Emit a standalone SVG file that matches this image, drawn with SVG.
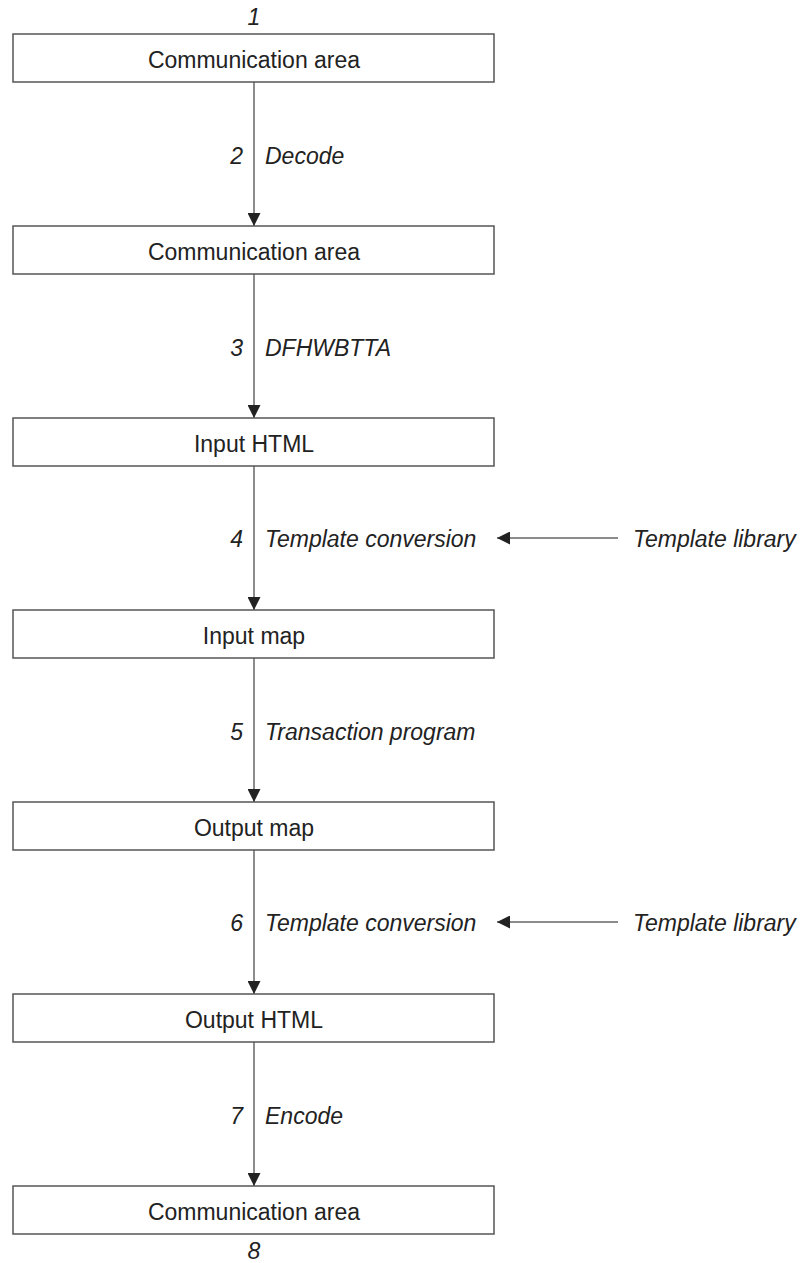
<svg xmlns="http://www.w3.org/2000/svg" width="805" height="1263" viewBox="0 0 805 1263">
<style>
.box{fill:#fff;stroke:#555;stroke-width:1.5}
.t{font-family:"Liberation Sans",Arial,sans-serif;font-size:23px;fill:#222;text-anchor:middle}
.i{font-family:"Liberation Sans",Arial,sans-serif;font-size:23px;fill:#222;font-style:italic}
.n{text-anchor:end}
.c{text-anchor:middle}
.ln{stroke:#666;stroke-width:1.5;fill:none}
</style>
<defs>
<marker id="ah" markerWidth="13" markerHeight="13" refX="13" refY="6.5" orient="auto" markerUnits="userSpaceOnUse">
<path d="M0,0 L13,6.5 L0,13 Z" fill="#222"/>
</marker>
</defs>
<rect width="805" height="1263" fill="#fff"/>
<g id="connectors">
<line class="ln" x1="254" y1="82" x2="254" y2="226" marker-end="url(#ah)"/>
<line class="ln" x1="254" y1="274" x2="254" y2="418" marker-end="url(#ah)"/>
<line class="ln" x1="254" y1="466" x2="254" y2="610" marker-end="url(#ah)"/>
<line class="ln" x1="254" y1="658" x2="254" y2="802" marker-end="url(#ah)"/>
<line class="ln" x1="254" y1="850" x2="254" y2="994" marker-end="url(#ah)"/>
<line class="ln" x1="254" y1="1042" x2="254" y2="1186" marker-end="url(#ah)"/>
<line class="ln" x1="618" y1="538" x2="497" y2="538" marker-end="url(#ah)"/>
<line class="ln" x1="618" y1="922" x2="497" y2="922" marker-end="url(#ah)"/>
<text class="i n" x="243" y="164">2</text><text class="i" x="265" y="164">Decode</text>
<text class="i n" x="243" y="356">3</text><text class="i" x="265" y="356">DFHWBTTA</text>
<text class="i n" x="243" y="547">4</text><text class="i" x="265" y="547">Template conversion</text>
<text class="i n" x="243" y="740">5</text><text class="i" x="265" y="740">Transaction program</text>
<text class="i n" x="243" y="931">6</text><text class="i" x="265" y="931">Template conversion</text>
<text class="i n" x="243" y="1124">7</text><text class="i" x="265" y="1124">Encode</text>
</g>
<g id="lib1"><text class="i" x="633" y="547">Template library</text></g>
<g id="lib2"><text class="i" x="633" y="931">Template library</text></g>
<g id="n1"><text class="i c" x="254" y="25">1</text><rect class="box" x="13" y="34" width="481" height="48"/><text class="t" x="254" y="68">Communication area</text></g>
<g id="n2"><rect class="box" x="13" y="226" width="481" height="48"/><text class="t" x="254" y="260">Communication area</text></g>
<g id="n3"><rect class="box" x="13" y="418" width="481" height="48"/><text class="t" x="254" y="452">Input HTML</text></g>
<g id="n4"><rect class="box" x="13" y="610" width="481" height="48"/><text class="t" x="254" y="644">Input map</text></g>
<g id="n5"><rect class="box" x="13" y="802" width="481" height="48"/><text class="t" x="254" y="836">Output map</text></g>
<g id="n6"><rect class="box" x="13" y="994" width="481" height="48"/><text class="t" x="254" y="1028">Output HTML</text></g>
<g id="n7"><rect class="box" x="13" y="1186" width="481" height="48"/><text class="t" x="254" y="1220">Communication area</text><text class="i c" x="254" y="1259">8</text></g>
</svg>
